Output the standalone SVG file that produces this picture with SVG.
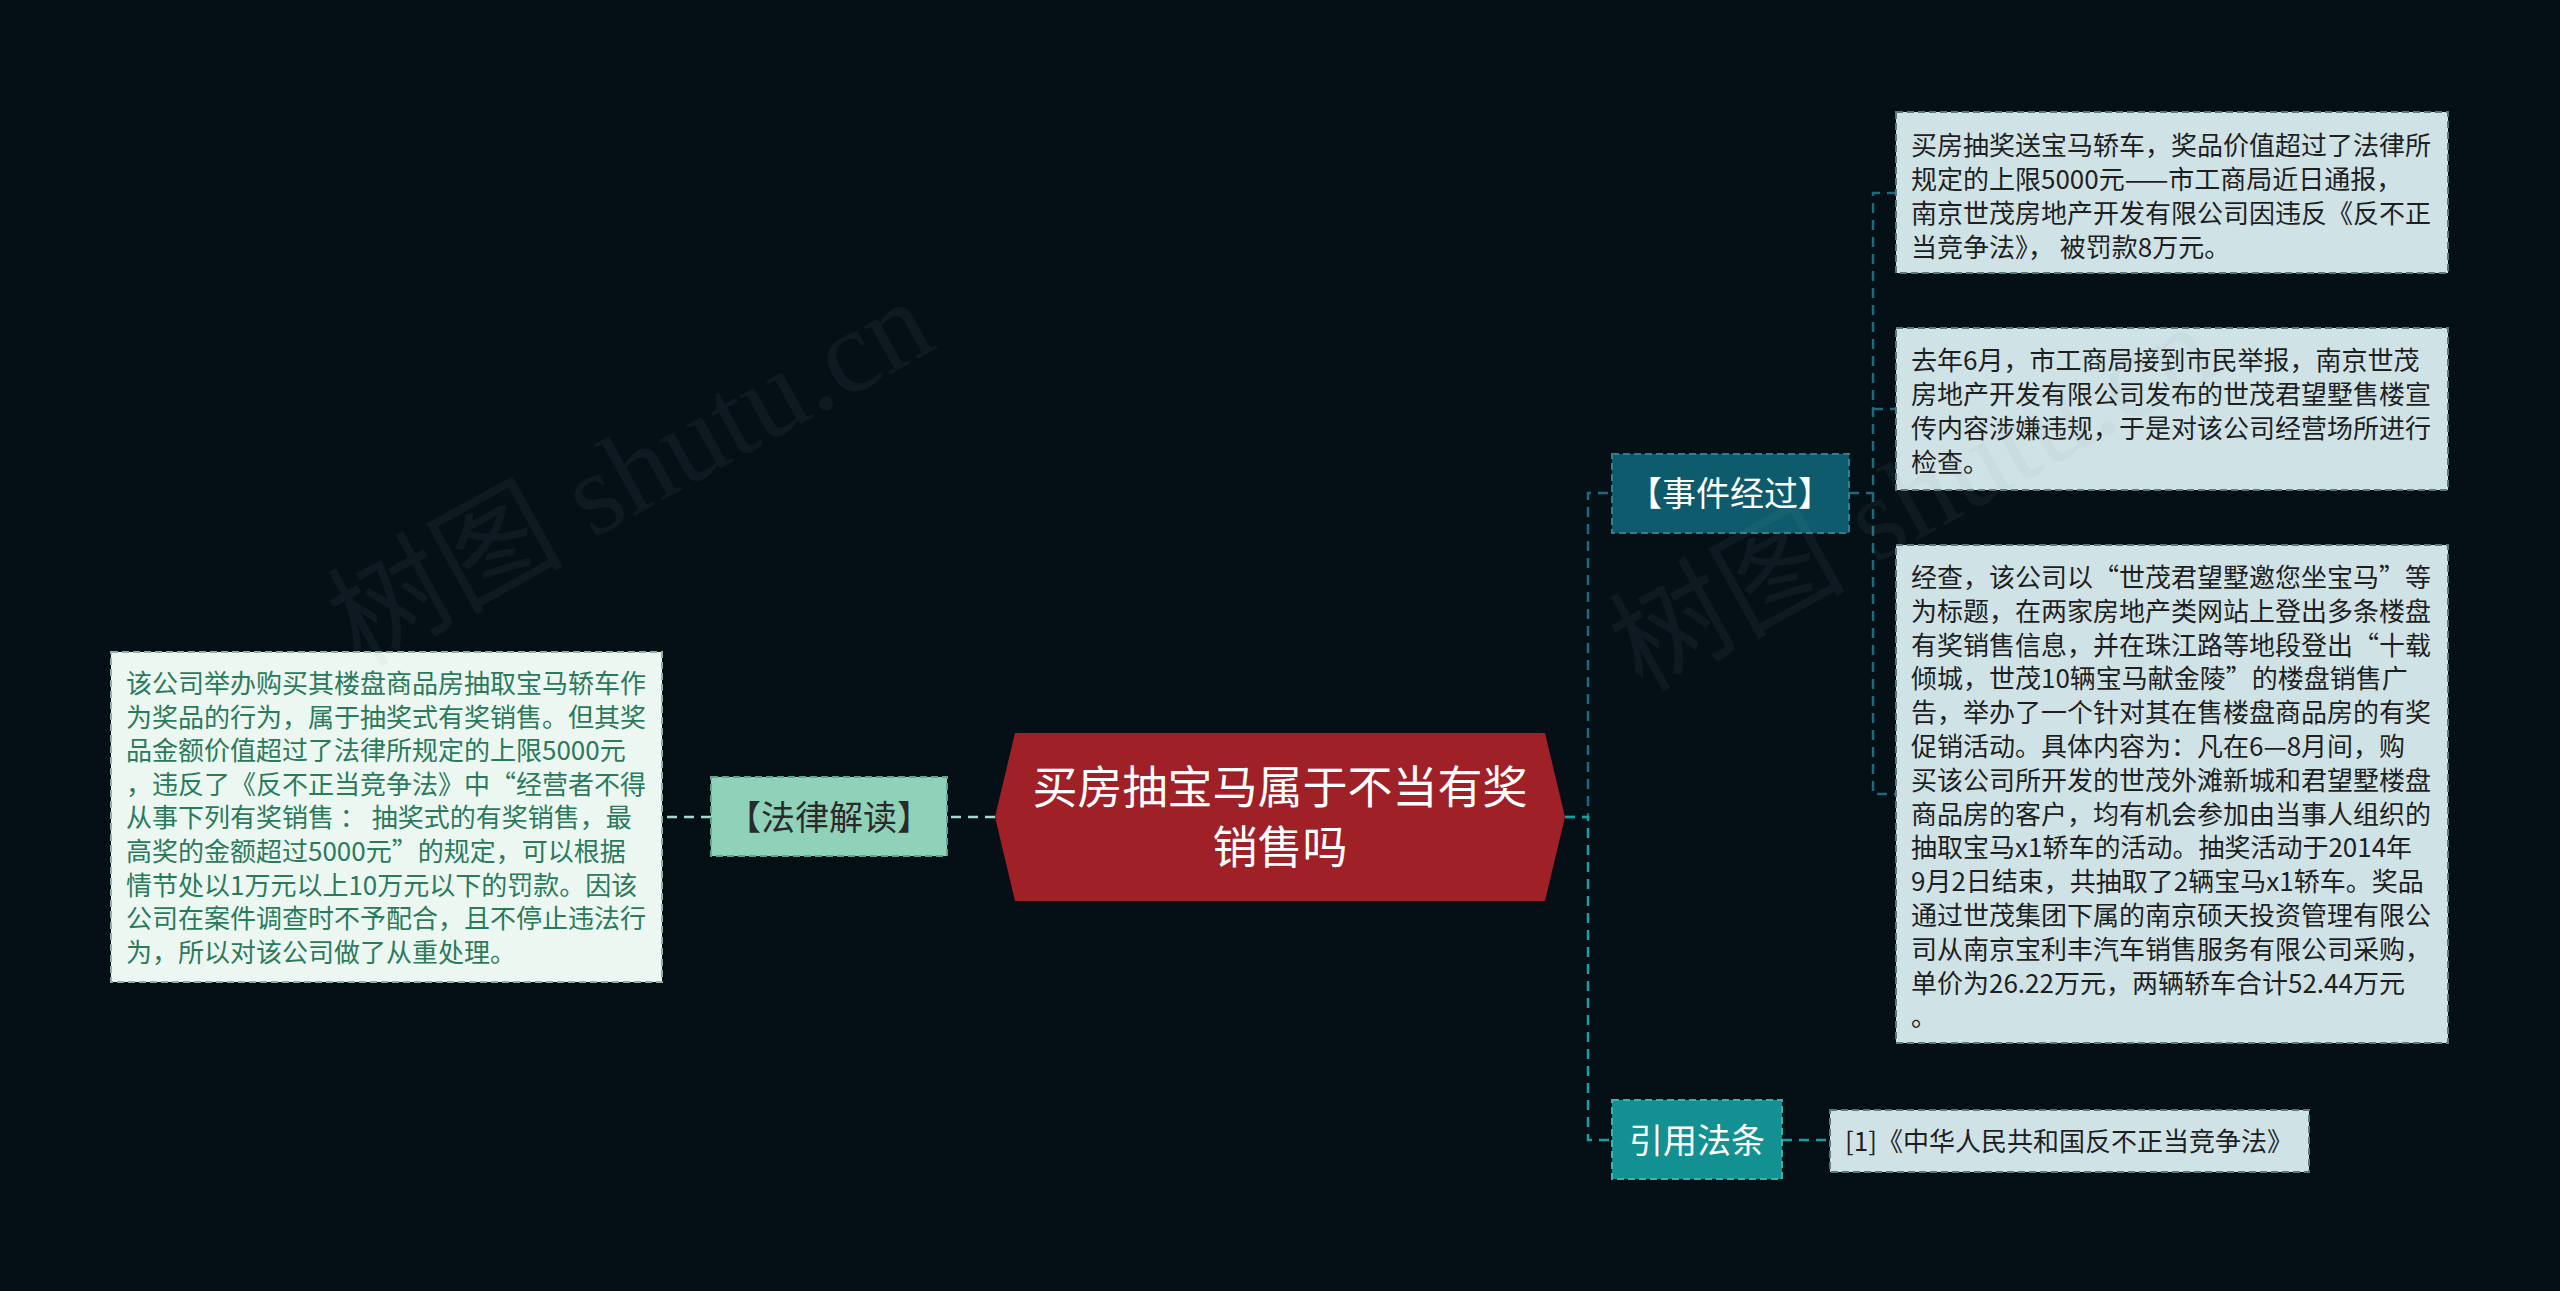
<svg xmlns="http://www.w3.org/2000/svg" width="2560" height="1291" viewBox="0 0 2560 1291">
<style>
.bg{fill:#040f16}
.t{font-family:"Noto Sans CJK SC","Liberation Sans",sans-serif}
.leaf{fill:#cfe3e7;stroke:#5a7880;stroke-width:2;stroke-dasharray:7 4}
.leaftxt{font-size:26px;fill:#1f1f1f}
.lefttxt{font-size:26px;fill:#2b7a5c}
.l1{font-size:34px}
.c1{fill:none;stroke:#1b6c80;stroke-width:2.5;stroke-dasharray:10 7}
.c2{fill:none;stroke:#17a1a6;stroke-width:2.5;stroke-dasharray:10 7}
.c3{fill:none;stroke:#a3dccb;stroke-width:2.5;stroke-dasharray:10 7}
.wm{font-family:"Liberation Serif","Noto Sans CJK SC",serif;font-size:118px;fill:#8a9aa2;opacity:0.08}
</style>
<rect class="bg" x="0" y="0" width="2560" height="1291"/>

<g id="connectors">
  <path class="c1" d="M1565 817 H1588 V493 H1612"/>
  <path class="c2" d="M1565 817 H1588 V1140 H1612"/>
  <path class="c1" d="M1849 493 H1873"/>
  <path class="c1" d="M1897 193 H1873 V794 H1897"/>
  <path class="c1" d="M1873 409 H1897"/>
  <path class="c2" d="M1782 1140 H1830"/>
  <path class="c3" d="M995 817 H947"/>
  <path class="c3" d="M711 817 H663"/>
</g>

<g id="center">
  <polygon points="995,817 1015,733 1545,733 1565,817 1545,901 1015,901" fill="#9f2027"/>
  <text class="t" x="1280" y="804" font-size="45" fill="#ffffff" text-anchor="middle">买房抽宝马属于不当有奖</text>
  <text class="t" x="1280" y="864" font-size="45" fill="#ffffff" text-anchor="middle">销售吗</text>
</g>

<g id="n-shijian">
  <rect x="1612" y="454" width="237" height="79" fill="#0d5b6c" stroke="#2f7f90" stroke-width="2" stroke-dasharray="7 4"/>
  <text class="t l1" x="1730" y="506" fill="#ffffff" text-anchor="middle">【事件经过】</text>
</g>

<g id="n-falv">
  <rect x="711" y="777" width="236" height="79" fill="#8fd1b9" stroke="#5fa58e" stroke-width="2" stroke-dasharray="7 4"/>
  <text class="t l1" x="829" y="830" fill="#2a2a2a" text-anchor="middle">【法律解读】</text>
</g>

<g id="n-yinyong">
  <rect x="1612" y="1100" width="170" height="79" fill="#139091" stroke="#3fb0b0" stroke-width="2" stroke-dasharray="7 4"/>
  <text class="t l1" x="1697" y="1153" fill="#ffffff" text-anchor="middle">引用法条</text>
</g>

<g id="n-left">
  <rect x="111" y="652" width="551" height="330" fill="#ecf7f2" stroke="#8fb0a3" stroke-width="2" stroke-dasharray="7 4"/>
  <text class="t lefttxt">
    <tspan x="126" y="693">该公司举办购买其楼盘商品房抽取宝马轿车作</tspan>
    <tspan x="126" y="726.6">为奖品的行为，属于抽奖式有奖销售。但其奖</tspan>
    <tspan x="126" y="760.2">品金额价值超过了法律所规定的上限5000元</tspan>
    <tspan x="126" y="793.8">，违反了《反不正当竞争法》中“经营者不得</tspan>
    <tspan x="126" y="827.4">从事下列有奖销售 ： 抽奖式的有奖销售，最</tspan>
    <tspan x="126" y="861">高奖的金额超过5000元”的规定，可以根据</tspan>
    <tspan x="126" y="894.6">情节处以1万元以上10万元以下的罚款。因该</tspan>
    <tspan x="126" y="928.2">公司在案件调查时不予配合，且不停止违法行</tspan>
    <tspan x="126" y="961.8">为，所以对该公司做了从重处理。</tspan>
  </text>
</g>

<g id="n-r1">
  <rect class="leaf" x="1896" y="112" width="552" height="161"/>
  <text class="t leaftxt">
    <tspan x="1911" y="155">买房抽奖送宝马轿车，奖品价值超过了法律所</tspan>
    <tspan x="1911" y="189">规定的上限5000元——市工商局近日通报，</tspan>
    <tspan x="1911" y="223">南京世茂房地产开发有限公司因违反《反不正</tspan>
    <tspan x="1911" y="257">当竞争法》， 被罚款8万元。</tspan>
  </text>
</g>

<g id="n-r2">
  <rect class="leaf" x="1896" y="328" width="552" height="162"/>
  <text class="t leaftxt">
    <tspan x="1911" y="370">去年6月，市工商局接到市民举报，南京世茂</tspan>
    <tspan x="1911" y="404">房地产开发有限公司发布的世茂君望墅售楼宣</tspan>
    <tspan x="1911" y="438">传内容涉嫌违规，于是对该公司经营场所进行</tspan>
    <tspan x="1911" y="472">检查。</tspan>
  </text>
</g>

<g id="n-r3">
  <rect class="leaf" x="1896" y="545" width="552" height="498"/>
  <text class="t leaftxt">
    <tspan x="1911" y="587">经查，该公司以“世茂君望墅邀您坐宝马”等</tspan>
    <tspan x="1911" y="620.8">为标题，在两家房地产类网站上登出多条楼盘</tspan>
    <tspan x="1911" y="654.6">有奖销售信息，并在珠江路等地段登出“十载</tspan>
    <tspan x="1911" y="688.4">倾城，世茂10辆宝马献金陵”的楼盘销售广</tspan>
    <tspan x="1911" y="722.2">告，举办了一个针对其在售楼盘商品房的有奖</tspan>
    <tspan x="1911" y="756">促销活动。具体内容为：凡在6—8月间，购</tspan>
    <tspan x="1911" y="789.8">买该公司所开发的世茂外滩新城和君望墅楼盘</tspan>
    <tspan x="1911" y="823.6">商品房的客户，均有机会参加由当事人组织的</tspan>
    <tspan x="1911" y="857.4">抽取宝马x1轿车的活动。抽奖活动于2014年</tspan>
    <tspan x="1911" y="891.2">9月2日结束，共抽取了2辆宝马x1轿车。奖品</tspan>
    <tspan x="1911" y="925">通过世茂集团下属的南京硕天投资管理有限公</tspan>
    <tspan x="1911" y="958.8">司从南京宝利丰汽车销售服务有限公司采购，</tspan>
    <tspan x="1911" y="992.6">单价为26.22万元，两辆轿车合计52.44万元</tspan>
    <tspan x="1911" y="1026.4">。</tspan>
  </text>
</g>

<g id="n-law">
  <rect class="leaf" x="1830" y="1110" width="479" height="62"/>
  <text class="t leaftxt" x="1845" y="1151">[1]《中华人民共和国反不正当竞争法》</text>
</g>

<g id="watermarks">
  <text class="wm" transform="translate(360,668) rotate(-29)">树图 shutu.cn</text>
  <text class="wm" transform="translate(1642,693) rotate(-29)">树图 shutu.cn</text>
</g>
</svg>
